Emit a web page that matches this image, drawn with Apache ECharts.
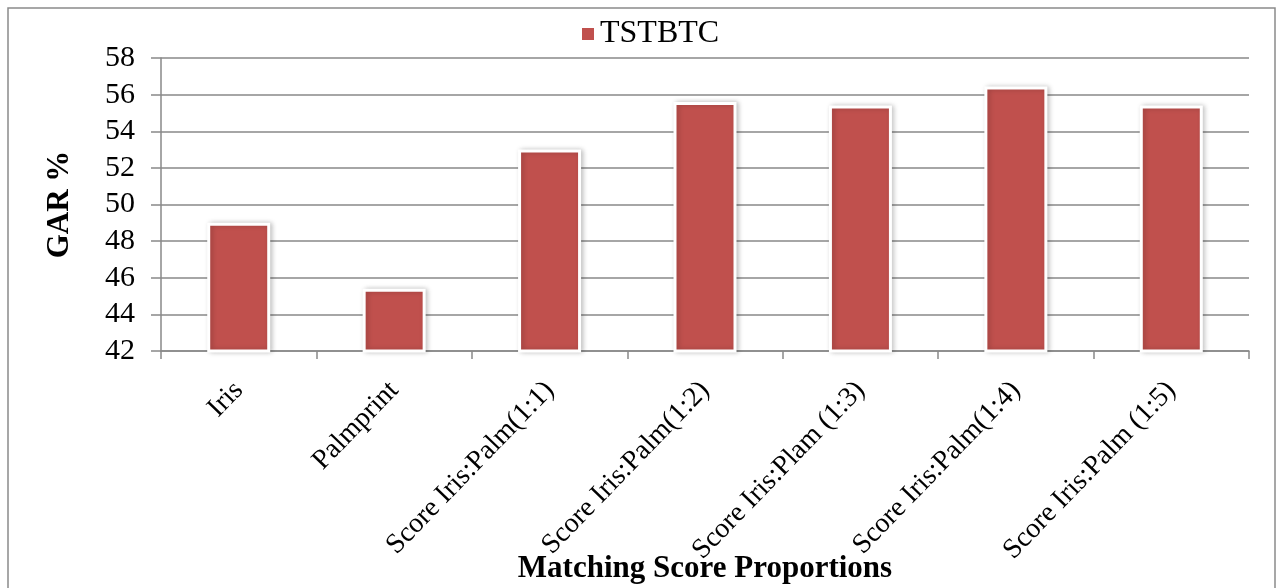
<!DOCTYPE html>
<html>
<head>
<meta charset="utf-8">
<script src="https://cdn.jsdelivr.net/npm/echarts@6/dist/echarts.min.js"></script>
<style>
  html, body { margin: 0; padding: 0; background: #fff; }
  #chart { width: 1278px; height: 588px; }
</style>
</head>
<body>
<div id="chart"></div>
<script>
const categories = [
  'Iris',
  'Palmprint',
  'Score Iris:Palm(1:1)',
  'Score Iris:Palm(1:2)',
  'Score Iris:Plam (1:3)',
  'Score Iris:Palm(1:4)',
  'Score Iris:Palm (1:5)'
];
const seriesName = 'TSTBTC';
const gar = [49, 45.4, 53, 55.6, 55.4, 56.45, 55.4];
const yTicks = { min: 42, max: 58, interval: 2 };

const FONT = '"Liberation Serif", "Times New Roman", serif';
const GRAY = '#898989';

const chart = echarts.init(document.getElementById('chart'));
chart.setOption({
  backgroundColor: '#fff',
  animation: false,
  graphic: [{
    type: 'rect',
    shape: { x: 8, y: 8, width: 1267, height: 600 },
    style: { fill: 'none', stroke: '#8a8a8a', lineWidth: 1.5 },
    silent: true
  }],
  legend: {
    data: [seriesName],
    left: 575,
    top: 13,
    icon: 'rect',
    itemWidth: 14,
    itemHeight: 14,
    itemGap: 7,
    textStyle: { fontFamily: FONT, fontSize: 32, color: '#000' }
  },
  grid: { left: 161, right: 29, top: 58, bottom: 237, containLabel: false, outerBoundsMode: 'none' },
  xAxis: {
    type: 'category',
    data: categories,
    name: 'Matching Score Proportions',
    nameLocation: 'middle',
    nameGap: 202,
    nameMoveOverlap: false,
    nameTextStyle: { fontFamily: FONT, fontSize: 31, fontWeight: 'bold', color: '#000' },
    axisLine: { show: true, lineStyle: { color: GRAY, width: 1.5 } },
    axisTick: { show: true, alignWithLabel: false, length: 8, lineStyle: { color: GRAY, width: 1.5 } },
    axisLabel: {
      rotate: 46,
      margin: 35,
      interval: 0,
      fontFamily: FONT,
      fontSize: 28,
      color: '#000'
    }
  },
  yAxis: {
    type: 'value',
    min: yTicks.min,
    max: yTicks.max,
    interval: yTicks.interval,
    name: 'GAR %',
    nameLocation: 'middle',
    nameGap: 86,
    nameRotate: 90,
    nameMoveOverlap: false,
    nameTextStyle: { fontFamily: FONT, fontSize: 31, fontWeight: 'bold', color: '#000' },
    axisLine: { show: true, lineStyle: { color: GRAY, width: 1.5 } },
    axisTick: { show: true, length: 10, lineStyle: { color: GRAY, width: 1.5 } },
    axisLabel: { margin: 26, fontFamily: FONT, fontSize: 30, color: '#000' },
    splitLine: { show: true, lineStyle: { color: GRAY, width: 1.5 } }
  },
  series: [{
    name: seriesName,
    type: 'bar',
    data: gar,
    barWidth: 63,
    itemStyle: {
      color: '#C0504D',
      borderColor: '#ffffff',
      borderWidth: 3,
      shadowColor: 'rgba(0,0,0,0.22)',
      shadowBlur: 5,
      shadowOffsetX: 2,
      shadowOffsetY: 0
    }
  }]
});
</script>
</body>
</html>
